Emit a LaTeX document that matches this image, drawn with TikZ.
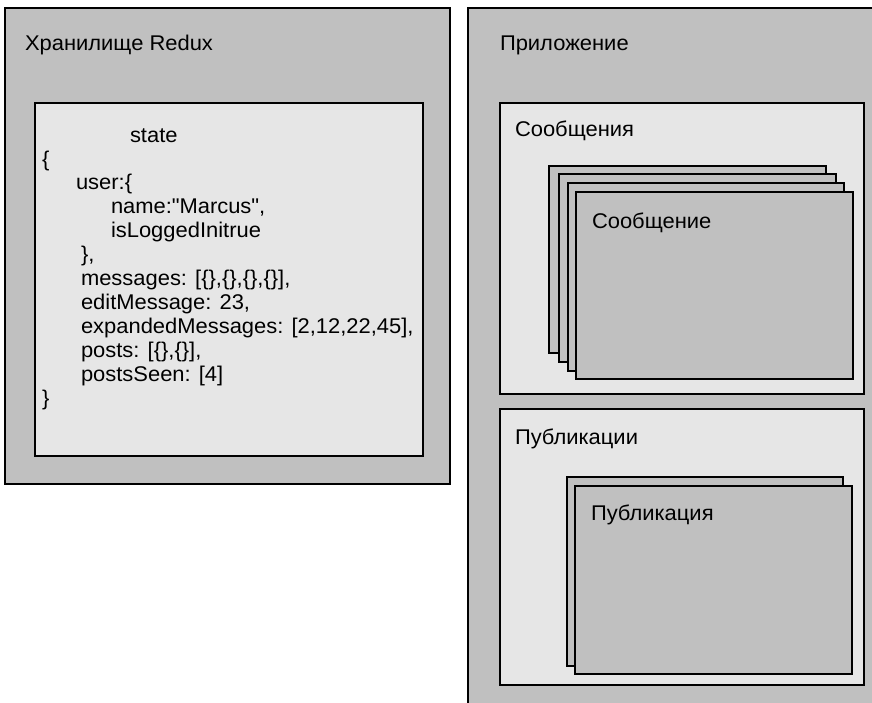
\documentclass[tikz,border=0pt]{standalone}
\usepackage{fontspec}
\setmainfont{Liberation Sans}[FakeStretch=1.03]
\definecolor{pgray}{RGB}{192,192,192}
\definecolor{plight}{RGB}{230,230,230}
\newcommand\straightquote{\XeTeXglyph\XeTeXcharglyph"22\relax}
\begin{document}
\begin{tikzpicture}[x=1pt,y=-1pt,
  frame/.style={draw=black, line width=1.2pt, rectangle, inner sep=0pt, outer sep=0pt, anchor=north west},
  outerbox/.style={frame, fill=pgray},
  innerbox/.style={frame, fill=plight},
  card/.style={frame, fill=pgray},
  lbl/.style={anchor=base west, inner sep=0pt, outer sep=0pt, font=\fontsize{21.3}{24}\selectfont}]
\clip (0,0) rectangle (872,702);
\fill[white] (0,0) rectangle (872,702);
% Redux store
\node[outerbox, minimum width=445pt, minimum height=476pt] (store) at (5,8) {};
\node[lbl] (storeT) at (25,50) {Хранилище Redux};
\node[innerbox, minimum width=388pt, minimum height=353pt] (state) at (35,103) {};
\node[lbl] (s0) at (130,142) {state};
\node[lbl] (s1) at (42,166) {\{};
\node[lbl] (s2) at (76,189) {user:\{};
\node[lbl] (s3) at (111,213) {name:\straightquote Marcus\straightquote,};
\node[lbl] (s4) at (111,237) {isLoggedInitrue};
\node[lbl] (s5) at (81,261) {\},};
\node[lbl] (s6) at (81,285) {messages: [\{\},\{\},\{\},\{\}],};
\node[lbl] (s7) at (81,309) {editMessage: 23,};
\node[lbl] (s8) at (81,333) {expandedMessages: [2,12,22,45],};
\node[lbl] (s9) at (81,357) {posts: [\{\},\{\}],};
\node[lbl] (s10) at (81,381) {postsSeen: [4]};
\node[lbl] (s11) at (42,405) {\}};
% Application
\node[outerbox, minimum width=420pt, minimum height=710pt] (app) at (468,8) {};
\node[lbl] (appT) at (500,50) {Приложение};
% Messages
\node[innerbox, minimum width=364pt, minimum height=291pt] (msgs) at (500,103) {};
\node[lbl] (msgsT) at (515,136) {Сообщения};
\node[card, minimum width=277pt, minimum height=187pt] (m1) at (549,166) {};
\node[card, minimum width=277pt, minimum height=188pt] (m2) at (559,174) {};
\node[card, minimum width=276pt, minimum height=188pt] (m3) at (568,183) {};
\node[card, minimum width=277pt, minimum height=187pt] (m4) at (576,192) {};
\node[lbl] (m4T) at (592,228) {Сообщение};
% Posts
\node[innerbox, minimum width=364pt, minimum height=276pt] (posts) at (500,409) {};
\node[lbl] (postsT) at (515,444) {Публикации};
\node[card, minimum width=276pt, minimum height=189pt] (p1) at (567,477) {};
\node[card, minimum width=277pt, minimum height=188pt] (p2) at (575,486) {};
\node[lbl] (p2T) at (591,520) {Публикация};
\end{tikzpicture}
\end{document}
